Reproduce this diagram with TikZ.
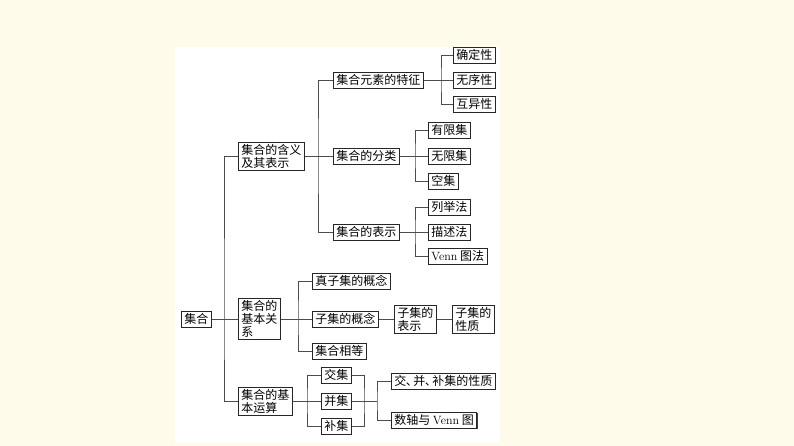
\documentclass[tikz,border=0pt]{standalone}
\usepackage{fontspec}
\newfontfamily\cjk{Noto Sans CJK SC}
\usepackage{xcolor}
\usepackage{tikz}
\usetikzlibrary{shadows,calc}

\definecolor{cream}{RGB}{255,251,234}

\tikzset{
	box/.style={draw=black!85, fill=white, line width=0.6pt, anchor=west, inner xsep=3pt, inner ysep=2pt, minimum height=16pt, align=left, font=\cjk\fontsize{12}{13}\selectfont, drop shadow={shadow xshift=0.9pt, shadow yshift=-0.9pt, opacity=1, fill=black!75}},
	link/.style={draw=black!70, line width=0.6pt}
}

\begin{document}
\begin{tikzpicture}[x=1pt, y=-1pt]
		% page and paper
		\fill[cream] (0,0) rectangle (794,446);
		\fill[white] (175,47) rectangle (500,443);

		\node[box] (root) at (181,319) {集合};
		\node[box] (han) at (238,156) {集合的含义\\及其表示};
		\node[box] (guan) at (238,319) {集合的\\基本关\\系};
		\node[box] (yun) at (238,401) {集合的基\\本运算};

		\node[box] (tezh) at (333,80) {集合元素的特征};
		\node[box] (fenl) at (333,156) {集合的分类};
		\node[box] (biao) at (333,232) {集合的表示};
		\node[box] (que) at (453,55) {确定性};
		\node[box] (wux) at (453,80) {无序性};
		\node[box] (huy) at (453,104) {互异性};
		\node[box] (youx) at (428,130) {有限集};
		\node[box] (wuxj) at (428,156) {无限集};
		\node[box] (kong) at (428,181) {空集};
		\node[box] (lie) at (428,207) {列举法};
		\node[box] (miao) at (428,232) {描述法};
		\node[box] (venn) at (428,256) {\textrm{Venn} 图法};

		\node[box] (zhen) at (312,281) {真子集的概念};
		\node[box] (zij) at (312,319) {子集的概念};
		\node[box] (zbs) at (394,319) {子集的\\表示};
		\node[box] (zxz) at (452,319) {子集的\\性质};
		\node[box] (xd) at (312,351) {集合相等};

		\node[box] (jiao) at (321,375) {交集};
		\node[box] (bing) at (321,401) {并集};
		\node[box] (bu) at (321,426) {补集};
		\node[box] (xz) at (391,381) {交\kern-0.5pt、\kern-4.5pt并\kern-0.5pt、\kern-4.5pt补集的性质};
		\node[box] (shu) at (391,420) {数轴与 \textrm{Venn} 图};

		% branch points
		\coordinate (r0) at (224,319);
		\coordinate (r1) at (318,156);
		\coordinate (r2) at (441,80);
		\coordinate (r3) at (415,156);
		\coordinate (r4) at (415,232);
		\coordinate (r5) at (298,319);
		\coordinate (r6) at (307,401);
		\coordinate (r7) at (364,401);
		\coordinate (r8) at (377,401);

		\draw[link] (root.east) -- (guan.west);
		\draw[link] (han.west) -| (r0) |- (yun.west);
		\draw[link] (han.east) -- (fenl.west);
		\draw[link] (tezh.west) -| (r1) |- (biao.west);
		\draw[link] (tezh.east) -- (wux.west);
		\draw[link] (que.west) -| (r2) |- (huy.west);
		\draw[link] (fenl.east) -- (wuxj.west);
		\draw[link] (youx.west) -| (r3) |- (kong.west);
		\draw[link] (biao.east) -- (miao.west);
		\draw[link] (lie.west) -| (r4) |- (venn.west);

		\draw[link] (guan.east) -- (zij.west);
		\draw[link] (zhen.west) -| (r5) |- (xd.west);
		\draw[link] (zij.east) -- (zbs.west);
		\draw[link] (zbs.east) -- (zxz.west);

		\draw[link] (yun.east) -- (bing.west);
		\draw[link] (jiao.west) -| (r6) |- (bu.west);
		\draw[link] (jiao.east) -| (r7) |- (bu.east);
		\draw[link] (bing.east) -- (r8);
		\draw[link] (xz.west) -| (r8) |- (shu.west);
	\end{tikzpicture}
\end{document}
